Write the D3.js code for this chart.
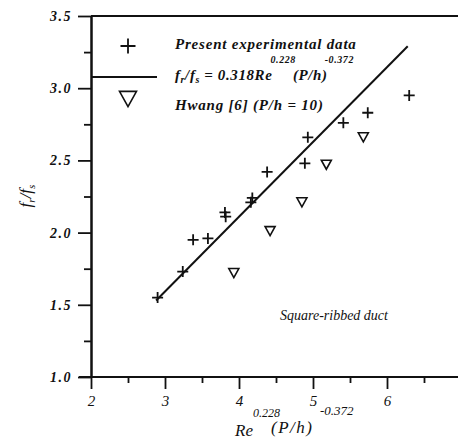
<!DOCTYPE html>
<html><head><meta charset="utf-8">
<script src="https://cdn.jsdelivr.net/npm/d3@7/dist/d3.min.js"></script>
<style>
body{margin:0;background:#fff;}
svg text{font-family:"Liberation Serif","Times New Roman",serif;fill:#111;}
</style></head>
<body><svg id="c" width="458" height="443"></svg>
<script>
// Data
const xTicks = [2, 3, 4, 5, 6];
const xMinor = [2.5, 3.5, 4.5, 5.5, 6.5];
const yTicks = [1.0, 1.5, 2.0, 2.5, 3.0, 3.5];
const yMinor = [1.25, 1.75, 2.25, 2.75, 3.25];
// Present experimental data (+)
const presentX = [2.90, 3.24, 3.38, 3.58, 3.81, 3.82, 4.18, 4.16, 4.38, 4.89, 4.93, 5.41, 5.74, 6.30];
const presentY = [1.55, 1.73, 1.95, 1.96, 2.14, 2.11, 2.24, 2.21, 2.42, 2.48, 2.66, 2.76, 2.83, 2.95];
// Hwang [6] (P/h = 10) (triangles)
const hwangX = [3.93, 4.42, 4.85, 5.18, 5.68];
const hwangY = [1.72, 2.01, 2.21, 2.47, 2.66];
// Correlation line endpoints
const lineX = [2.88, 6.28];
const lineY = [1.53, 3.29];

const svg = d3.select("#c");
const x = d3.scaleLinear().domain([2, 7]).range([91, 461]);
const y = d3.scaleLinear().domain([1, 3.5]).range([377, 16]);

function styleAxis(g){
  g.select(".domain").attr("stroke","#111").attr("stroke-width",2);
  g.selectAll(".tick line").attr("stroke","#111").attr("stroke-width",1.8);
}
// top frame line
svg.append("line").attr("x1",x(2)).attr("x2",458).attr("y1",y(3.5)).attr("y2",y(3.5))
  .attr("stroke","#111").attr("stroke-width",2);

// Y axis
const gy = svg.append("g").attr("transform",`translate(${x(2)},0)`)
  .call(d3.axisLeft(y).tickValues(yTicks).tickFormat(d3.format(".1f")).tickSize(13).tickPadding(6).tickSizeOuter(0));
styleAxis(gy);
gy.selectAll(".tick text").attr("font-size",14).attr("font-weight","bold").attr("font-style","italic").attr("fill","#111")
  .attr("letter-spacing",1.5).style("font-family","'Liberation Serif','Times New Roman',serif");
const gym = svg.append("g").attr("transform",`translate(${x(2)},0)`)
  .call(d3.axisLeft(y).tickValues(yMinor).tickFormat("").tickSize(7).tickSizeOuter(0));
styleAxis(gym);

// X axis
const gx = svg.append("g").attr("transform",`translate(0,${y(1)})`)
  .call(d3.axisBottom(x).tickValues(xTicks).tickFormat(d3.format("d")).tickSize(12).tickPadding(6).tickSizeOuter(0));
styleAxis(gx);
gx.select(".domain").attr("d",`M${x(2)-12},0H458`);
gx.selectAll(".tick text").attr("font-size",15).attr("font-style","italic").attr("fill","#111")
  .style("font-family","'Liberation Serif','Times New Roman',serif");
const gxm = svg.append("g").attr("transform",`translate(0,${y(1)})`)
  .call(d3.axisBottom(x).tickValues(xMinor).tickFormat("").tickSize(6).tickSizeOuter(0));
styleAxis(gxm);
gxm.select(".domain").remove();

// correlation line
svg.append("path")
  .attr("d", d3.line().x(d=>x(d[0])).y(d=>y(d[1]))(lineX.map((v,i)=>[v,lineY[i]])))
  .attr("stroke","#111").attr("stroke-width",2).attr("fill","none");

// plus markers
function plus(g, cx, cy, s){
  g.append("path").attr("d",`M${cx-s},${cy}H${cx+s}M${cx},${cy-s}V${cy+s}`)
    .attr("stroke","#111").attr("stroke-width",1.8).attr("fill","none");
}
function tri(g, cx, cy, w){
  const h = w*0.9;
  g.append("path").attr("d",`M${cx-w/2},${cy-h/2}L${cx+w/2},${cy-h/2}L${cx},${cy+h/2}Z`)
    .attr("stroke","#111").attr("stroke-width",1.6).attr("fill","none");
}
const gp = svg.append("g");
presentX.forEach((v,i)=>plus(gp, x(v), y(presentY[i]), 5.5));
hwangX.forEach((v,i)=>tri(gp, x(v), y(hwangY[i]), 10));

// legend
plus(svg, 128, 46, 7.5);
svg.append("line").attr("x1",91).attr("x2",157).attr("y1",77).attr("y2",77).attr("stroke","#111").attr("stroke-width",2);
tri(svg, 128, 99, 17);
svg.append("text").attr("x",175).attr("y",49).attr("font-size",15).attr("font-weight","bold").attr("font-style","italic")
  .attr("letter-spacing",0.8).text("Present experimental data");
const ft = svg.append("text").attr("x",175).attr("y",80).attr("font-size",15).attr("font-weight","bold").attr("font-style","italic")
  .attr("letter-spacing",0.6);
ft.append("tspan").text("f");
ft.append("tspan").attr("font-size",10).attr("dy",3).text("r");
ft.append("tspan").attr("dy",-3).text("/f");
ft.append("tspan").attr("font-size",10).attr("dy",3).text("s");
ft.append("tspan").attr("dy",-3).text(" = 0.318Re");
ft.append("tspan").attr("font-size",10).attr("dy",-17).attr("dx",-2).text("0.228");
ft.append("tspan").attr("dy",17).attr("dx",-3).text("(P/h)");
ft.append("tspan").attr("font-size",10).attr("dy",-17).attr("dx",-3).text("-0.372");
svg.append("text").attr("x",175).attr("y",110).attr("font-size",15).attr("font-weight","bold").attr("font-style","italic")
  .attr("letter-spacing",0.8).text("Hwang [6] (P/h = 10)");

// annotation
svg.append("text").attr("x",280).attr("y",320).attr("font-size",14).attr("font-style","italic").text("Square-ribbed duct");

// axis titles
const xt = svg.append("text").attr("x",235).attr("y",436).attr("font-size",17).attr("font-style","italic");
xt.append("tspan").text("Re");
xt.append("tspan").attr("font-size",12).attr("dy",-19).text("0.228");
xt.append("tspan").attr("x",271).attr("dy",16).attr("letter-spacing",1.5).text("(P/h)");
xt.append("tspan").attr("x",320).attr("font-size",13).attr("dy",-18).text("-0.372");

const yt = svg.append("text").attr("transform","translate(31,196) rotate(-90)").attr("text-anchor","middle")
  .attr("font-size",17).attr("font-style","italic");
yt.append("tspan").text("f");
yt.append("tspan").attr("font-size",11).attr("dy",4).text("r");
yt.append("tspan").attr("dy",-4).text("/f");
yt.append("tspan").attr("font-size",11).attr("dy",4).text("s");
</script></body></html>
